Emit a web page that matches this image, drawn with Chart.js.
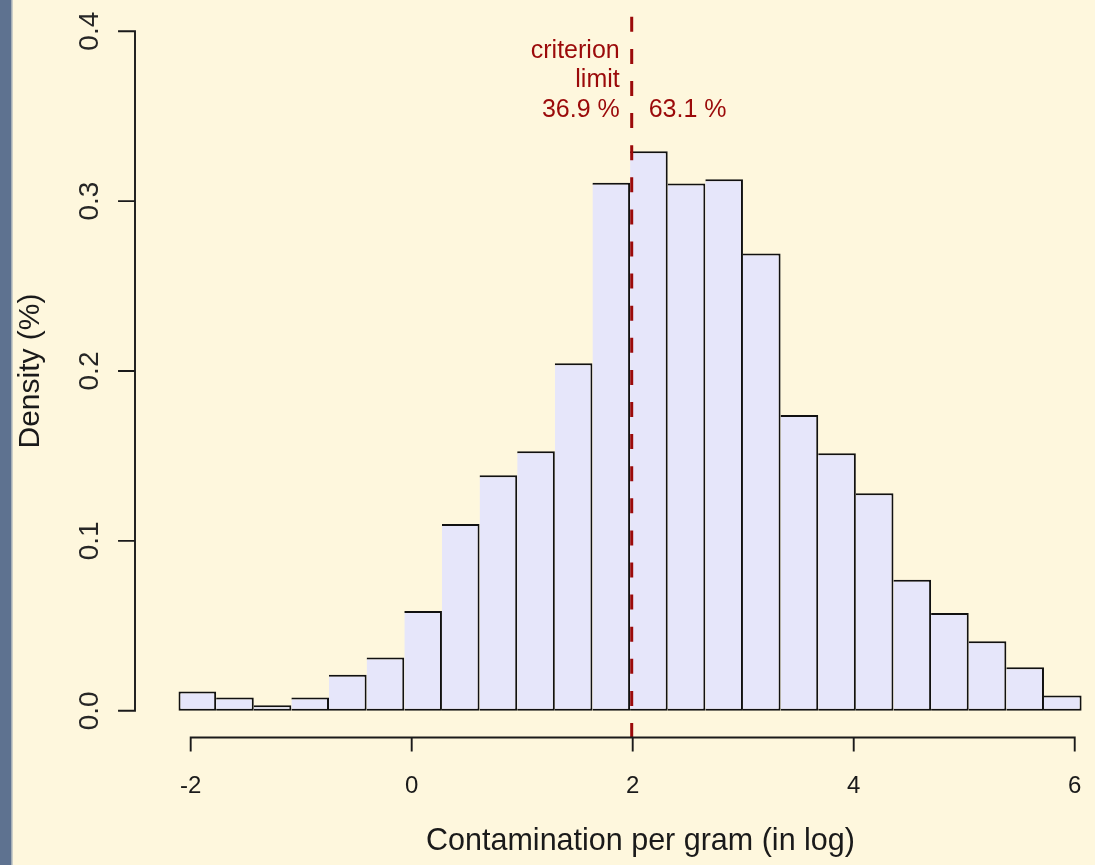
<!DOCTYPE html>
<html>
<head>
<meta charset="utf-8">
<title>Contamination per gram</title>
<script src="https://cdn.jsdelivr.net/npm/chart.js@4.4.1/dist/chart.umd.min.js"></script>
<style>
  html, body { margin: 0; padding: 0; overflow: hidden; background: #FEF7DD; }
  #wrap { width: 1146px; height: 865px; }
  canvas { display: block; }
</style>
</head>
<body>
<div id="wrap"><canvas id="hist" width="1146" height="865" style="width:1146px;height:865px"></canvas></div>
<script>
// Histogram bin edges (log10 contamination per gram)
const breaks = [-2.110, -1.770, -1.429, -1.089, -0.748, -0.408, -0.067, 0.274, 0.614,
                0.955, 1.295, 1.636, 1.976, 2.317, 2.657, 2.998, 3.338, 3.679, 4.019,
                4.360, 4.700, 5.041, 5.381, 5.722, 6.062];
// Density of each bin
const density = [0.0114, 0.0078, 0.0033, 0.0078, 0.0212, 0.0314, 0.0588, 0.1100,
                 0.1386, 0.1527, 0.2045, 0.3108, 0.3294, 0.3104, 0.3128, 0.2692,
                 0.1741, 0.1516, 0.1280, 0.0772, 0.0575, 0.0410, 0.0257, 0.0090];
const xTicks = [-2, 0, 2, 4, 6];
const yTicks = [0, 0.1, 0.2, 0.3, 0.4];
// Criterion limit and the share of the distribution on each side of it
const criterionLimit = 2;
const limitLabel = ['criterion', 'limit'];
const shareLabels = ['36.9 %', '63.1 %'];

const FONT = "'Liberation Sans', Arial, Helvetica, sans-serif";
const INK = '#1a1a1a';
const RED = '#9B0A0A';

const points = density.map((d, i) => ({ x: (breaks[i] + breaks[i + 1]) / 2, y: d }));

// Page background and the slate strip along the left edge
const backdrop = {
  id: 'backdrop',
  beforeDraw(chart) {
    const ctx = chart.ctx;
    ctx.save();
    ctx.fillStyle = '#FEF7DD';
    ctx.fillRect(0, 0, chart.width, chart.height);
    ctx.fillStyle = '#5E7290';
    ctx.fillRect(0, 0, 11.5, chart.height);
    ctx.fillStyle = '#9AA7B6';
    ctx.fillRect(11.5, 0, 1, chart.height);
    ctx.restore();
  }
};

// Detached axis lines with outward ticks, the dashed limit and its labels
const overlay = {
  id: 'overlay',
  afterDatasetsDraw(chart) {
    const { ctx, chartArea } = chart;
    const xs = chart.scales.x, ys = chart.scales.y;
    ctx.save();

    // dashed criterion line
    const lx = xs.getPixelForValue(criterionLimit) - 1;
    ctx.strokeStyle = RED;
    ctx.lineWidth = 3;
    ctx.setLineDash([15, 17.1]);
    ctx.beginPath();
    ctx.moveTo(lx, chartArea.bottom);
    ctx.lineTo(lx, chartArea.top);
    ctx.stroke();
    ctx.setLineDash([]);

    // axes
    ctx.strokeStyle = INK;
    ctx.lineWidth = 1.9;
    ctx.lineCap = 'square';
    const ay = chartArea.bottom - 0.5;
    ctx.beginPath();
    ctx.moveTo(xs.getPixelForValue(xTicks[0]), ay);
    ctx.lineTo(xs.getPixelForValue(xTicks[xTicks.length - 1]), ay);
    xTicks.forEach(v => {
      const px = xs.getPixelForValue(v);
      ctx.moveTo(px, ay);
      ctx.lineTo(px, ay + 13);
    });
    const ax = chartArea.left;
    ctx.moveTo(ax, ys.getPixelForValue(yTicks[0]));
    ctx.lineTo(ax, ys.getPixelForValue(yTicks[yTicks.length - 1]));
    yTicks.forEach(v => {
      const py = ys.getPixelForValue(v);
      ctx.moveTo(ax, py);
      ctx.lineTo(ax - 16, py);
    });
    ctx.stroke();

    // limit labels
    ctx.fillStyle = RED;
    ctx.font = '25px ' + FONT;
    ctx.textBaseline = 'middle';
    ctx.textAlign = 'right';
    ctx.fillText(limitLabel[0], lx - 12, ys.getPixelForValue(0.388));
    ctx.fillText(limitLabel[1], lx - 12, ys.getPixelForValue(0.3712));
    ctx.fillText(shareLabels[0], lx - 12, ys.getPixelForValue(0.3535));
    ctx.textAlign = 'left';
    ctx.fillText(shareLabels[1], lx + 17, ys.getPixelForValue(0.3535));
    ctx.restore();
  }
};

new Chart(document.getElementById('hist'), {
  type: 'bar',
  data: {
    datasets: [{
      data: points,
      backgroundColor: '#E6E6FA',
      borderColor: '#111111',
      borderWidth: 2,
      borderSkipped: c => (c.dataIndex === 0 ? false : 'left'),
      inflateAmount: 0,
      barPercentage: 1,
      categoryPercentage: 1,
      grouped: false
    }]
  },
  options: {
    responsive: false,
    animation: false,
    events: [],
    layout: { padding: { top: 4, left: 0, right: 0, bottom: 0 } },
    plugins: { legend: { display: false }, tooltip: { enabled: false } },
    scales: {
      x: {
        type: 'linear',
        offset: false,
        min: -2.504,
        max: 6.645,
        grid: { display: false, drawTicks: false, offset: false },
        border: { display: false },
        afterBuildTicks: s => { s.ticks = xTicks.map(v => ({ value: v })); },
        afterFit: s => { s.height = 127; s.paddingLeft = 0; s.paddingRight = 0; },
        ticks: {
          autoSkip: false, maxRotation: 0, minRotation: 0,
          padding: 33.6,
          color: INK,
          font: { family: FONT, size: 24 },
          callback: v => String(v)
        },
        title: {
          display: true,
          text: 'Contamination per gram (in log)',
          color: INK,
          font: { family: FONT, size: 30.5 },
          padding: { top: 0, bottom: 5 }
        }
      },
      y: {
        type: 'linear',
        min: -0.016,
        max: 0.416,
        grid: { display: false, drawTicks: false },
        border: { display: false },
        afterBuildTicks: s => { s.ticks = yTicks.map(v => ({ value: v })); },
        afterFit: s => { s.width = 135; s.paddingTop = 0; s.paddingBottom = 0; },
        ticks: {
          autoSkip: false, minRotation: 90, maxRotation: 90,
          crossAlign: 'center',
          padding: 25.5,
          color: '#262626',
          font: { family: FONT, size: 28 },
          callback: v => v.toFixed(1)
        },
        title: {
          display: true,
          text: 'Density (%)',
          color: INK,
          font: { family: FONT, size: 30 },
          padding: { top: 12.5, bottom: 0 }
        }
      }
    }
  },
  plugins: [backdrop, overlay]
});
</script>
</body>
</html>
